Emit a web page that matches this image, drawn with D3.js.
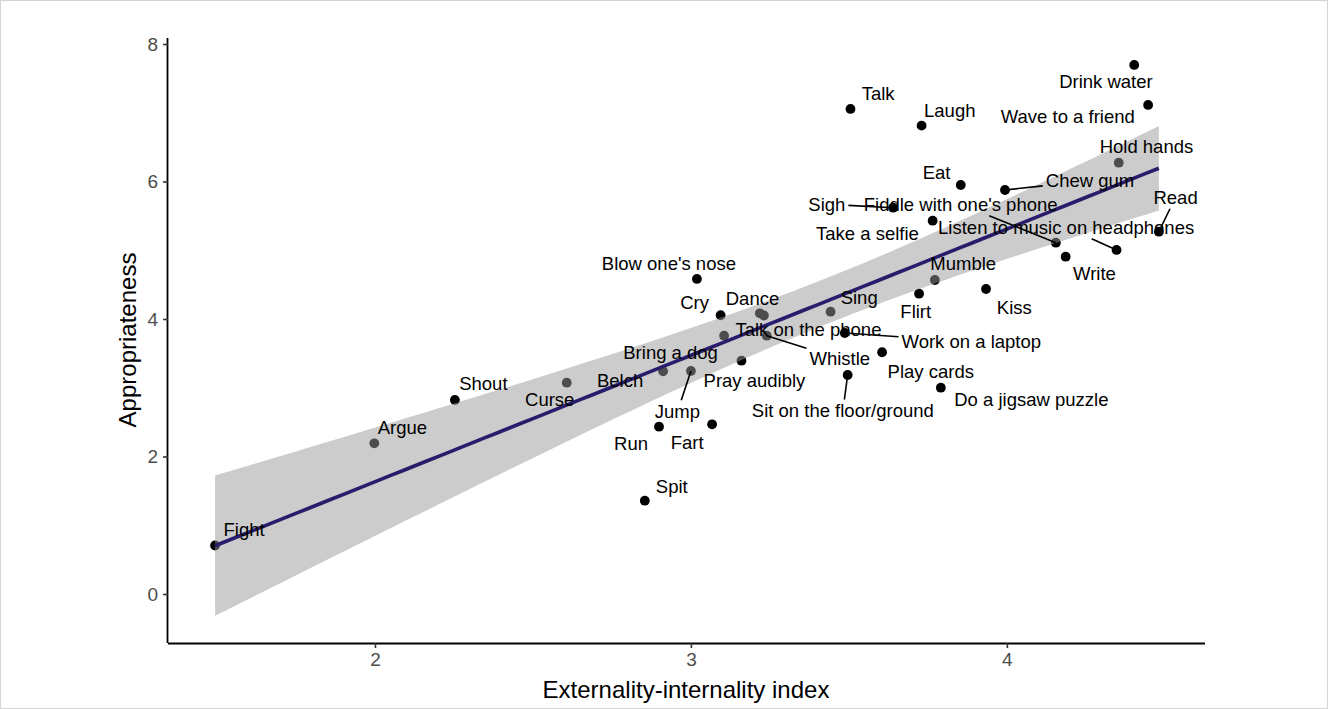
<!DOCTYPE html>
<html>
<head>
<meta charset="utf-8">
<script src="https://cdn.jsdelivr.net/npm/d3@7"></script>
<style>
  body { margin: 0; background: #fff; }
  svg { display: block; font-family: "Liberation Sans", Arial, Helvetica, sans-serif; }
</style>
</head>
<body>
<div id="chart"></div>
<script>
const W = 1328, H = 709;

// activities
const activities = ["Fight", "Argue", "Shout", "Curse", "Belch", "Jump", "Pray audibly", "Run", "Fart", "Spit",
  "Blow one's nose", "Cry", "Dance", "Talk on the phone", "Bring a dog", "Whistle", "Sing", "Work on a laptop",
  "Play cards", "Sit on the floor/ground", "Do a jigsaw puzzle", "Flirt", "Mumble", "Kiss", "Take a selfie", "Sigh",
  "Fiddle with one's phone", "Eat", "Chew gum", "Talk", "Laugh", "Drink water", "Wave to a friend", "Hold hands",
  "Read", "Listen to music on headphones", "Write"];
const externality = [1.494, 1.998, 2.253, 2.607, 2.912, 3.000, 3.160, 2.899, 3.067, 2.854,
  3.019, 3.094, 3.218, 3.231, 3.105, 3.240, 3.442, 3.487,
  3.605, 3.496, 3.791, 3.722, 3.772, 3.934, 3.765, 3.640,
  4.155, 3.854, 3.994, 3.505, 3.730, 4.403, 4.447, 4.354,
  4.481, 4.347, 4.186];
const appropriateness = [0.705, 2.192, 2.822, 3.073, 3.239, 3.244, 3.393, 2.433, 2.468, 1.357,
  4.582, 4.054, 4.083, 4.051, 3.757, 3.757, 4.106, 3.796,
  3.516, 3.185, 3.001, 4.368, 4.567, 4.436, 5.430, 5.619,
  5.110, 5.949, 5.876, 7.055, 6.812, 7.695, 7.113, 6.273,
  5.270, 5.004, 4.906];
const xTicks = [2, 3, 4];
const yTicks = [0, 2, 4, 6, 8];

// label placement (pixel nudge from the point, and whether a leader line is drawn)
const labelNudge = {
  "Fight": [29, -15.5], "Argue": [28, -16], "Shout": [28.5, -16], "Curse": [-17, 17], "Belch": [-43, 9.5],
  "Jump": [-13.5, 40.7, true], "Pray audibly": [13, 20], "Run": [-28, 16.6], "Fart": [-25, 18.4], "Spit": [27, -14],
  "Blow one's nose": [-28, -15], "Cry": [-26, -13], "Dance": [-7.3, -15], "Talk on the phone": [44.5, 14.5],
  "Bring a dog": [-53.5, 16.6], "Whistle": [73, 23.3, true], "Sing": [28.6, -14.4],
  "Work on a laptop": [126.5, 8.7, true], "Play cards": [48.7, 19.4], "Sit on the floor/ground": [-4.8, 36, true],
  "Do a jigsaw puzzle": [90.5, 12.3], "Flirt": [-3.3, 18], "Mumble": [28.4, -16], "Kiss": [28.3, 18.3],
  "Take a selfie": [-65.2, 13.3], "Sigh": [-66.3, -3.4, true], "Fiddle with one's phone": [-95.2, -38.4, true],
  "Eat": [-24.2, -12.3], "Chew gum": [85, -9.3, true], "Talk": [27.7, -15.7], "Laugh": [28.2, -15],
  "Drink water": [-28.3, 17], "Wave to a friend": [-80.3, 12], "Hold hands": [27.7, -16],
  "Read": [16.7, -34.4, true], "Listen to music on headphones": [-50.4, -22.7, true], "Write": [28.8, 17.3]
};

const data = activities.map((a, i) => ({ name: a, x: externality[i], y: appropriateness[i] }));

const svg = d3.select("#chart").append("svg").attr("width", W).attr("height", H);

svg.append("rect").attr("x", 0.5).attr("y", 0.5).attr("width", W - 1).attr("height", H - 1)
  .attr("fill", "#fff").attr("stroke", "#d4d4d4");

const xScale = d3.scaleLinear().domain([1.345, 4.627]).range([168, 1205]);
const yScale = d3.scaleLinear().domain([-0.713, 8.087]).range([643, 38]);

// linear fit with 95% confidence band
const n = data.length;
const mx = d3.mean(data, d => d.x), my = d3.mean(data, d => d.y);
const sxx = d3.sum(data, d => (d.x - mx) ** 2);
const slope = d3.sum(data, d => (d.x - mx) * (d.y - my)) / sxx;
const icpt = my - slope * mx;
const s = Math.sqrt(d3.sum(data, d => (d.y - icpt - slope * d.x) ** 2) / (n - 2));
const tq = 2.0301;
const [x0, x1] = d3.extent(data, d => d.x);
const band = d3.range(0, 81).map(k => {
  const xv = x0 + (x1 - x0) * k / 80;
  const fit = icpt + slope * xv;
  const se = s * Math.sqrt(1 / n + (xv - mx) ** 2 / sxx);
  return { x: xv, fit: fit, lo: fit - tq * se, hi: fit + tq * se };
});

// points
svg.append("g").selectAll("circle").data(data).join("circle")
  .attr("cx", d => xScale(d.x)).attr("cy", d => yScale(d.y)).attr("r", 4.9).attr("fill", "#000");

svg.append("path").datum(band)
  .attr("d", d3.area().x(d => xScale(d.x)).y0(d => yScale(d.lo)).y1(d => yScale(d.hi)))
  .attr("fill", "#999").attr("fill-opacity", 0.5);

svg.append("path").datum(band)
  .attr("d", d3.line().x(d => xScale(d.x)).y(d => yScale(d.fit)))
  .attr("fill", "none").attr("stroke", "#2a1c6c").attr("stroke-width", 3.6);

// axes
const xAxis = svg.append("g").attr("transform", "translate(0,643)")
  .call(d3.axisBottom(xScale).tickValues(xTicks).tickSize(5).tickPadding(5).tickFormat(d3.format("d")));
const yAxis = svg.append("g").attr("transform", "translate(168,0)")
  .call(d3.axisLeft(yScale).tickValues(yTicks).tickSize(5).tickPadding(5).tickFormat(d3.format("d")));
[xAxis, yAxis].forEach(g => {
  g.select(".domain").attr("stroke", "#000").attr("stroke-width", 1.8);
  g.selectAll(".tick line").attr("stroke", "#333").attr("stroke-width", 1.6);
  g.selectAll(".tick text").attr("fill", "#4d4d4d").style("font-size", "19px")
    .style("font-family", "Liberation Sans, Arial, sans-serif");
});
xAxis.select(".domain").attr("d", "M168,0.5H1205");
yAxis.select(".domain").attr("d", "M-0.5,38V643");

svg.append("text").attr("x", 686).attr("y", 698).attr("text-anchor", "middle")
  .style("font-size", "24px").attr("fill", "#000").text("Externality-internality index");
svg.append("text").attr("transform", "translate(136,340) rotate(-90)").attr("text-anchor", "middle")
  .style("font-size", "24px").attr("fill", "#000").text("Appropriateness");

// labels and leader lines
const segG = svg.append("g");
const labG = svg.append("g");
data.forEach(d => {
  const [dx, dy, seg] = labelNudge[d.name];
  const px = xScale(d.x), py = yScale(d.y);
  const cx = px + dx, cy = py + dy;
  const t = labG.append("text").attr("x", cx).attr("y", cy).attr("dy", "0.35em")
    .attr("text-anchor", "middle").style("font-size", "18.5px").attr("fill", "#000").text(d.name);
  if (seg) {
    const b = t.node().getBBox();
    const hw = b.width / 2 + 3, hh = b.height / 2 + 1;
    const vx = cx - px, vy = cy - py;
    // distance along the line to the box edge
    const tx = Math.abs(vx) > 0 ? (Math.abs(vx) - hw) / Math.abs(vx) : 1;
    const ty = Math.abs(vy) > 0 ? (Math.abs(vy) - hh) / Math.abs(vy) : 1;
    const f = Math.max(0, Math.max(tx, ty));
    segG.append("line").attr("x1", px).attr("y1", py)
      .attr("x2", px + vx * f).attr("y2", py + vy * f)
      .attr("stroke", "#000").attr("stroke-width", 1.6);
  }
});
</script>
</body>
</html>
